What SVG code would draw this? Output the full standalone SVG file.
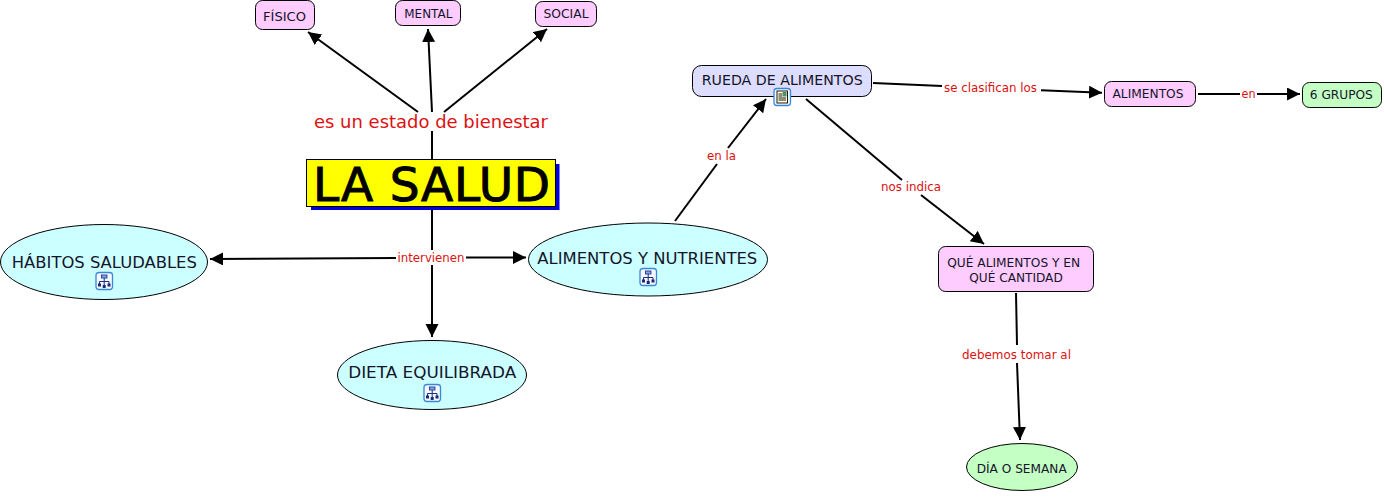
<svg xmlns="http://www.w3.org/2000/svg" width="1384" height="497" viewBox="0 0 1384 497">
<style>
text{font-family:"DejaVu Sans",Verdana,sans-serif;text-anchor:middle;fill:#14142a}
.n{stroke:#000;stroke-width:1}
.p{fill:#ffccff}.c{fill:#ccffff}.g{fill:#c4ffc4}.b{fill:#ddddff}
.t12{font-size:12px}.t16{font-size:16px}
.l{fill:#dd1111;font-size:12px}
.ln{stroke:#000;stroke-width:2;fill:none}
.a{stroke:#000;stroke-width:2;fill:none;marker-end:url(#ah)}
</style>
<defs>
<marker id="ah" markerUnits="userSpaceOnUse" markerWidth="15" markerHeight="15" refX="13" refY="6.500" orient="auto"><path d="M0 0L13 6.500L0 13Z" fill="#000"/></marker>
<g id="cm"><rect x="-8" y="-8.500" width="16.500" height="17" rx="3" fill="#f4f9ff" stroke="#3a86d8" stroke-width="1.300"/><rect x="-2.500" y="-6" width="5.500" height="3" fill="#7fa6e6" stroke="#1a2a80" stroke-width="0.800"/><path d="M0.200-3V5M-4.500 0.500H5M-4.500 0.500V3M5 0.500V3" fill="none" stroke="#1a2a80" stroke-width="1"/><rect x="-6" y="2.500" width="3" height="3" fill="#1a2a70"/><rect x="-1.300" y="4" width="3" height="3" fill="#1a2a70"/><rect x="3.500" y="2.500" width="3" height="3" fill="#1a2a70"/></g>
<g id="doc"><rect x="-8" y="-8.500" width="16.500" height="17" rx="3" fill="#f4f9ff" stroke="#3a86d8" stroke-width="1.300"/><rect x="-5" y="-6" width="10.500" height="12" fill="#ffffd8" stroke="#1a1a1a" stroke-width="1"/><path d="M-3.500-3H0M-3.500-1H0M-3.500 1H4M-3.500 3H4" stroke="#1a1a1a" stroke-width="1" fill="none"/><rect x="0.500" y="-5" width="4" height="4.500" fill="#4f8f6f"/></g>
</defs>
<g id="connectors">
<path class="a" d="M418 112L308 32"/>
<path class="a" d="M432 112L428 29"/>
<path class="a" d="M444 112L547 29"/>
<path class="ln" d="M432 131V159M432 210V250"/>
<path class="a" d="M432 265V337"/>
<path class="a" d="M396 258L210 259"/>
<path class="a" d="M466 257.500H526"/>
<path class="ln" d="M675 221L717 164"/>
<path class="a" d="M728 148L766 99"/>
<path class="ln" d="M806 99L902 180"/>
<path class="a" d="M921 195L984 244"/>
<path class="ln" d="M873 83L942 86"/>
<path class="a" d="M1041 90.300L1102 92.700"/>
<path class="ln" d="M1198 94H1240"/>
<path class="a" d="M1257 94H1300"/>
<path class="ln" d="M1016 293L1017 345"/>
<path class="a" d="M1017 363L1020 440"/>
<text class="l" x="431" y="127.500" textLength="234" lengthAdjust="spacingAndGlyphs" style="font-size:18px">es un estado de bienestar</text>
<text class="l" x="431" y="261.500" textLength="67" lengthAdjust="spacingAndGlyphs">intervienen</text>
<text class="l" x="721.500" y="160" textLength="29" lengthAdjust="spacingAndGlyphs">en la</text>
<text class="l" x="911" y="191" textLength="60" lengthAdjust="spacingAndGlyphs">nos indica</text>
<text class="l" x="990.500" y="92" textLength="93" lengthAdjust="spacingAndGlyphs">se clasifican los</text>
<text class="l" x="1248.500" y="98" textLength="14" lengthAdjust="spacingAndGlyphs">en</text>
<text class="l" x="1016.500" y="359" textLength="109" lengthAdjust="spacingAndGlyphs">debemos tomar al</text>
</g>
<g id="fisico"><rect class="n p" x="255.500" y="0.500" width="59" height="29" rx="7"/><text class="t12" x="284.500" y="20.500" textLength="43" lengthAdjust="spacingAndGlyphs">FÍSICO</text></g>
<g id="mental"><rect class="n p" x="395.500" y="0.500" width="65" height="25" rx="7"/><text class="t12" x="428.300" y="18" textLength="48" lengthAdjust="spacingAndGlyphs">MENTAL</text></g>
<g id="social"><rect class="n p" x="535.500" y="1.500" width="61" height="25" rx="7"/><text class="t12" x="566" y="18" textLength="45" lengthAdjust="spacingAndGlyphs">SOCIAL</text></g>
<g id="la-salud"><rect x="311" y="164" width="248.500" height="46" fill="#0000dd"/><rect x="306.500" y="159.500" width="249" height="47" fill="#ffff00" stroke="#000"/><text x="431.500" y="201" textLength="237" lengthAdjust="spacing" style="font-family:'DejaVu Sans',cursive;font-size:47px;fill:#000;stroke:#000;stroke-width:1">LA SALUD</text></g>
<g id="habitos"><ellipse class="n c" cx="104" cy="262" rx="103.500" ry="37.500"/><text class="t16" x="104.300" y="268" textLength="185" lengthAdjust="spacingAndGlyphs">HÁBITOS SALUDABLES</text><use href="#cm" x="104" y="281"/></g>
<g id="alimentos-nutrientes"><ellipse class="n c" cx="648" cy="259.500" rx="119.500" ry="36.500"/><text class="t16" x="647.300" y="263.500" textLength="220" lengthAdjust="spacingAndGlyphs">ALIMENTOS Y NUTRIENTES</text><use href="#cm" x="648" y="277"/></g>
<g id="dieta"><ellipse class="n c" cx="432" cy="375" rx="94.500" ry="34.500"/><text class="t16" x="432.200" y="377.500" textLength="168" lengthAdjust="spacingAndGlyphs">DIETA EQUILIBRADA</text><use href="#cm" x="432" y="393"/></g>
<g id="rueda"><rect class="n b" x="692.500" y="65.500" width="179" height="31" rx="9"/><text x="782.200" y="84.500" textLength="161" lengthAdjust="spacingAndGlyphs" style="font-size:14px">RUEDA DE ALIMENTOS</text><use href="#doc" x="782" y="97"/></g>
<g id="alimentos"><rect class="n p" x="1104.500" y="81.500" width="91" height="25" rx="7"/><text class="t12" x="1148" y="98.300" textLength="71" lengthAdjust="spacingAndGlyphs">ALIMENTOS</text></g>
<g id="grupos"><rect class="n g" x="1302.500" y="82.500" width="79" height="25" rx="7"/><text class="t12" x="1341.300" y="99.300" textLength="63" lengthAdjust="spacingAndGlyphs">6 GRUPOS</text></g>
<g id="que"><rect class="n p" x="938.500" y="246.500" width="155" height="45" rx="7"/><text class="t12" x="1013.700" y="266.500" textLength="133" lengthAdjust="spacingAndGlyphs">QUÉ ALIMENTOS Y EN</text><text class="t12" x="1016" y="281.500" textLength="93.500" lengthAdjust="spacingAndGlyphs">QUÉ CANTIDAD</text></g>
<g id="dia"><ellipse class="n g" cx="1022" cy="467" rx="55.500" ry="23.500"/><text class="t12" x="1021.700" y="473.300" textLength="90" lengthAdjust="spacingAndGlyphs">DÍA O SEMANA</text></g>
</svg>
